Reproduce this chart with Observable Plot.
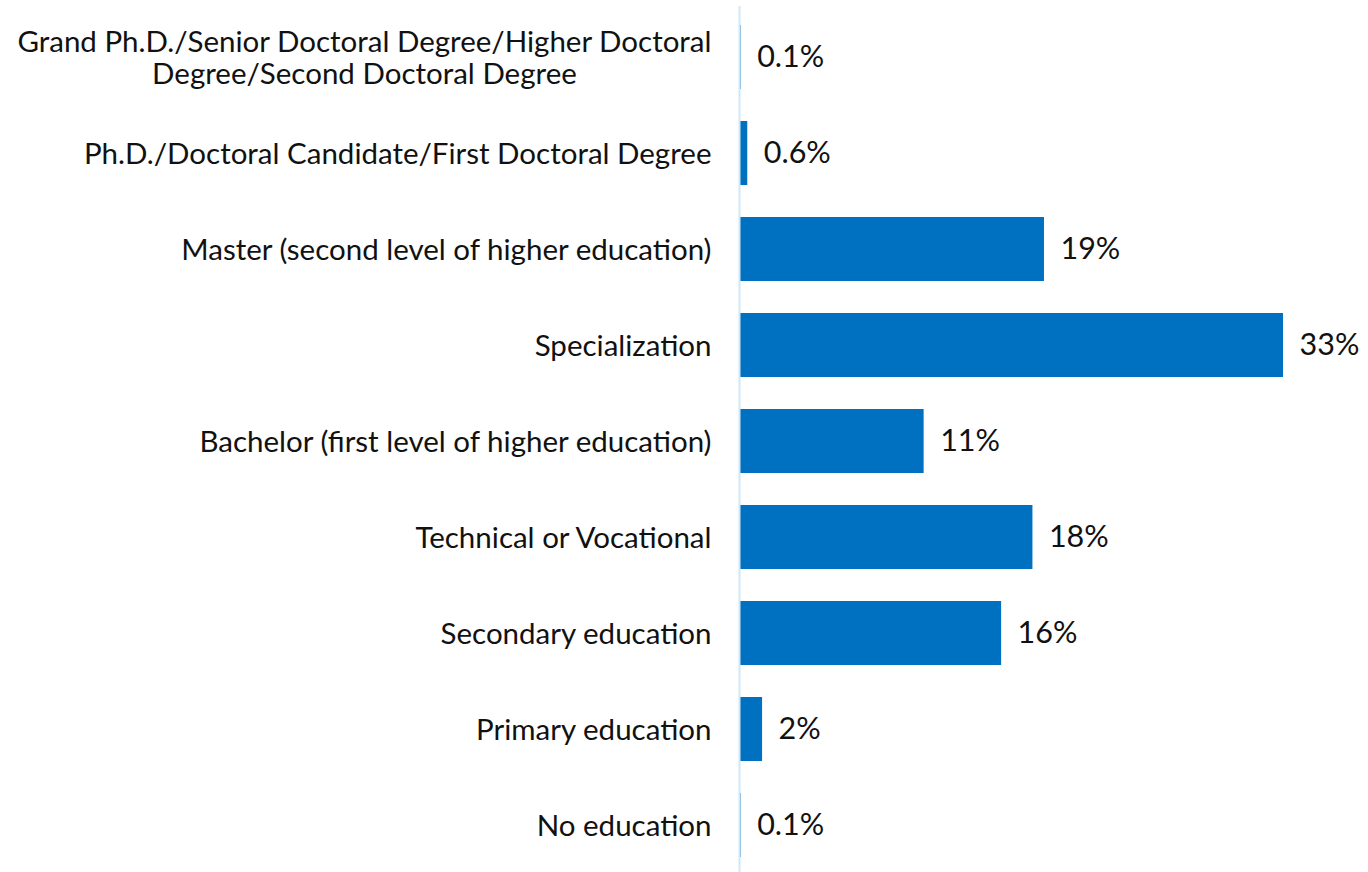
<!DOCTYPE html>
<html>
<head>
<meta charset="utf-8">
<script src="https://cdn.jsdelivr.net/npm/d3@7"></script>
<script src="https://cdn.jsdelivr.net/npm/@observablehq/plot@0.6"></script>
<style>
  html, body { margin: 0; padding: 0; background: #fff; }
  #chart svg { display: block; font-family: Lato, "Noto Sans", sans-serif; }
</style>
</head>
<body>
<div id="chart"></div>
<script>
const categories = [
  "Grand Ph.D./Senior Doctoral Degree/Higher Doctoral\nDegree/Second Doctoral Degree",
  "Ph.D./Doctoral Candidate/First Doctoral Degree",
  "Master (second level of higher education)",
  "Specialization",
  "Bachelor (first level of higher education)",
  "Technical or Vocational",
  "Secondary education",
  "Primary education",
  "No education"
];
const values = [0.1, 0.5, 18.5, 33, 11.2, 17.8, 15.9, 1.4, 0.1];
const valueLabels = ["0.1%", "0.6%", "19%", "33%", "11%", "18%", "16%", "2%", "0.1%"];

const data = categories.map((c, i) => ({category: c, value: values[i], label: valueLabels[i]}));

const plot = Plot.plot({
  width: 1368,
  height: 872,
  marginLeft: 739,
  marginRight: 85,
  marginTop: 6,
  marginBottom: -3,
  style: {fontFamily: "Lato, 'Noto Sans', sans-serif", background: "#fff"},
  x: {domain: [0, 33], axis: null},
  y: {domain: categories, paddingInner: 0.335, paddingOuter: 0.1675, label: null},
  marks: [
    Plot.barX(data, {x: "value", y: "category", fill: "#0070C0"}),
    Plot.ruleX([0], {stroke: "#cfe7f8", strokeWidth: 2}),
    Plot.text(data, {x: "value", y: "category", text: "label", textAnchor: "start", dx: 16, fontSize: 30.5, fill: "#111"}),
    Plot.axisY({tickSize: 0, tickPadding: 28, fontSize: 29.5, lineHeight: 1.1, color: "#111", label: null})
  ]
});
document.getElementById("chart").appendChild(plot);

// center multi-line tick labels relative to their widest line
d3.select(plot).selectAll("g[aria-label='y-axis tick label'] text").each(function() {
  const tspans = this.querySelectorAll("tspan");
  if (tspans.length > 1) {
    let maxW = 0;
    tspans.forEach(t => { maxW = Math.max(maxW, t.getComputedTextLength()); });
    const x0 = +(this.getAttribute("x") || 0);
    this.setAttribute("text-anchor", "middle");
    tspans.forEach(t => t.setAttribute("x", x0 - maxW / 2));
  }
});
</script>
</body>
</html>
